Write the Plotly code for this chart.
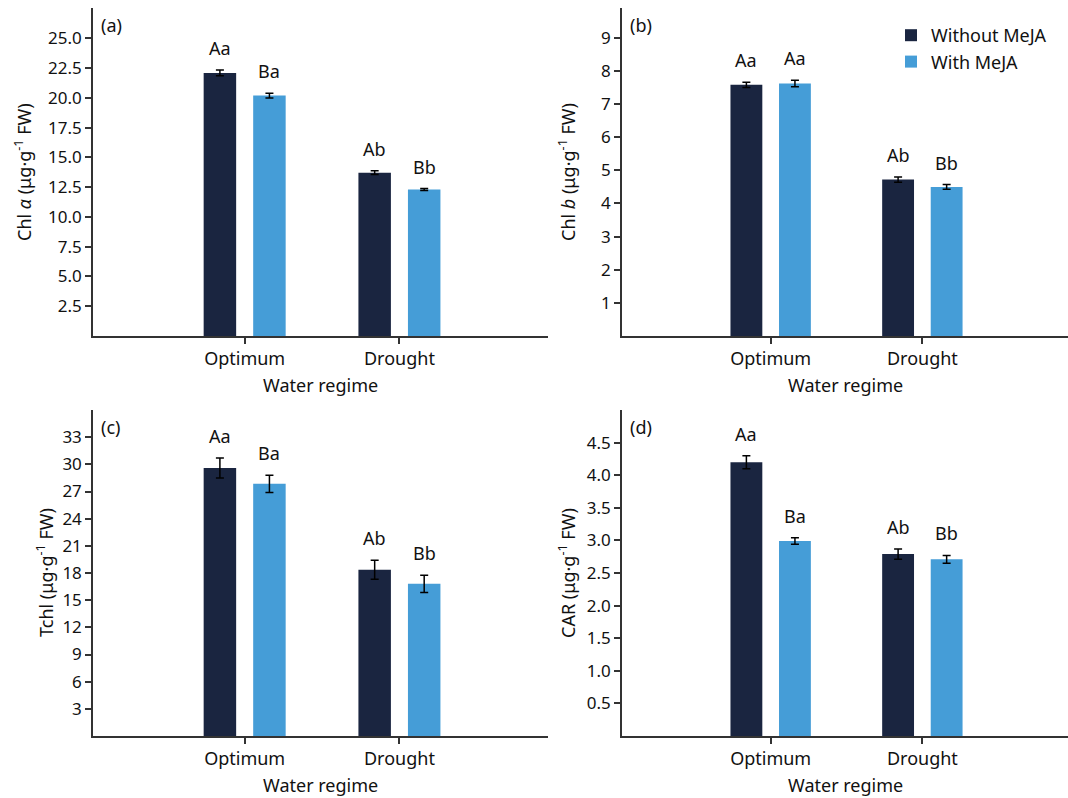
import plotly.graph_objects as go

W, H = 1068, 798

regimes = ["Optimum", "Drought"]
series_names = ["Without MeJA", "With MeJA"]
colors = ["#1a2540", "#459dd7"]

# Panel (a) Chl a
chla_without = [22.1, 13.72]
chla_with = [20.2, 12.3]
chla_without_err = [0.25, 0.15]
chla_with_err = [0.2, 0.08]
chla_letters_without = ["Aa", "Ab"]
chla_letters_with = ["Ba", "Bb"]

# Panel (b) Chl b
chlb_without = [7.58, 4.72]
chlb_with = [7.62, 4.50]
chlb_without_err = [0.08, 0.08]
chlb_with_err = [0.1, 0.07]
chlb_letters_without = ["Aa", "Ab"]
chlb_letters_with = ["Aa", "Bb"]

# Panel (c) Tchl
tchl_without = [29.6, 18.35]
tchl_with = [27.85, 16.8]
tchl_without_err = [1.1, 1.05]
tchl_with_err = [0.95, 0.95]
tchl_letters_without = ["Aa", "Ab"]
tchl_letters_with = ["Ba", "Bb"]

# Panel (d) CAR
car_without = [4.20, 2.79]
car_with = [2.99, 2.71]
car_without_err = [0.1, 0.08]
car_with_err = [0.05, 0.06]
car_letters_without = ["Aa", "Ab"]
car_letters_with = ["Ba", "Bb"]

ytick_a = [2.5, 5.0, 7.5, 10.0, 12.5, 15.0, 17.5, 20.0, 22.5, 25.0]
ytick_b = [1, 2, 3, 4, 5, 6, 7, 8, 9]
ytick_c = [3, 6, 9, 12, 15, 18, 21, 24, 27, 30, 33]
ytick_d = [0.5, 1.0, 1.5, 2.0, 2.5, 3.0, 3.5, 4.0, 4.5]

ytitle_a = "Chl <i>α</i> (μg·g<sup>-1</sup> FW)"
ytitle_b = "Chl <i>b</i> (μg·g<sup>-1</sup> FW)"
ytitle_c = "Tchl (μg·g<sup>-1</sup> FW)"
ytitle_d = "CAR (μg·g<sup>-1</sup> FW)"
xtitle = "Water regime"

FONT = "Noto Sans"
AXC = "#333333"
TXT = "#111111"
BARGAP = 0.36
BARGROUPGAP = 0.344
OFF = (1 - BARGAP) / 4  # centre offset of each bar within its group

panels = [
    dict(name="(a)", ax="", vals=(chla_without, chla_with), errs=(chla_without_err, chla_with_err),
         letters=(chla_letters_without, chla_letters_with), ticks=ytick_a, fmt=".1f", yr=[0, 27.55],
         xd=(93, 548), yd=(8, 336), title=ytitle_a, tx=23, legend=True),
    dict(name="(b)", ax="2", vals=(chlb_without, chlb_with), errs=(chlb_without_err, chlb_with_err),
         letters=(chlb_letters_without, chlb_letters_with), ticks=ytick_b, fmt="d", yr=[0, 9.9],
         xd=(622, 1068), yd=(8, 336), title=ytitle_b, tx=567, legend=False),
    dict(name="(c)", ax="3", vals=(tchl_without, tchl_with), errs=(tchl_without_err, tchl_with_err),
         letters=(tchl_letters_without, tchl_letters_with), ticks=ytick_c, fmt="d", yr=[0, 36],
         xd=(93, 548), yd=(410, 736), title=ytitle_c, tx=45, legend=False),
    dict(name="(d)", ax="4", vals=(car_without, car_with), errs=(car_without_err, car_with_err),
         letters=(car_letters_without, car_letters_with), ticks=ytick_d, fmt=".1f", yr=[0, 5.0],
         xd=(622, 1068), yd=(410, 736), title=ytitle_d, tx=567, legend=False),
]

fig = go.Figure()
annotations = []
layout = {}

for p in panels:
    xa = "x" + p["ax"]
    ya = "y" + p["ax"]
    for i in range(2):
        fig.add_trace(go.Bar(
            x=regimes, y=p["vals"][i], name=series_names[i],
            marker=dict(color=colors[i], line=dict(width=0)),
            error_y=dict(type="data", array=p["errs"][i], color="black", thickness=1.5, width=4),
            xaxis=xa, yaxis=ya, legendgroup=series_names[i], showlegend=p["legend"],
        ))
        sign = -1 if i == 0 else 1
        for j, reg in enumerate(regimes):
            annotations.append(dict(
                x=j + sign * OFF, y=p["vals"][i][j] + p["errs"][i][j], xref=xa, yref=ya,
                text=p["letters"][i][j], showarrow=False, yanchor="bottom", xanchor="center",
                yshift=8, font=dict(family=FONT, size=18, color=TXT),
            ))
    x0, x1 = p["xd"]
    y0, y1 = p["yd"]
    layout["xaxis" + p["ax"]] = dict(
        domain=[x0 / W, min(x1 / W, 1.0)], anchor=ya, range=[-0.98, 1.96],
        showline=True, linecolor=AXC, linewidth=1.5, ticks="outside", ticklen=6, tickwidth=1.5,
        tickcolor=AXC, showgrid=False, zeroline=False,
        tickfont=dict(family=FONT, size=18, color=TXT),
    )
    layout["yaxis" + p["ax"]] = dict(
        domain=[1 - y1 / H, 1 - y0 / H], anchor=xa, range=p["yr"],
        showline=True, linecolor=AXC, linewidth=1.5, ticks="outside", ticklen=6, tickwidth=1.5,
        tickcolor=AXC, showgrid=False, zeroline=False, tickvals=p["ticks"], tickformat=p["fmt"],
        tickfont=dict(family=FONT, size=17, color=TXT),
    )
    # panel tag
    annotations.append(dict(x=(x0 + 6) / W, y=1 - (y0 + 17) / H, xref="paper", yref="paper",
                            text=p["name"], showarrow=False, xanchor="left", yanchor="middle",
                            font=dict(family=FONT, size=18, color=TXT)))
    # y title
    annotations.append(dict(x=p["tx"] / W, y=1 - (y0 + y1) / 2 / H, xref="paper", yref="paper",
                            text=p["title"], showarrow=False, textangle=-90, xanchor="center",
                            yanchor="middle", font=dict(family=FONT, size=18, color=TXT)))
    # x title
    annotations.append(dict(x=(x0 + min(x1, W)) / 2 / W, y=1 - (y1 + 49) / H, xref="paper", yref="paper",
                            text=xtitle, showarrow=False, xanchor="center", yanchor="middle",
                            font=dict(family=FONT, size=18, color=TXT)))

fig.update_layout(
    width=W, height=H, margin=dict(l=0, r=0, t=0, b=0),
    paper_bgcolor="white", plot_bgcolor="white",
    barmode="group", bargap=BARGAP, bargroupgap=BARGROUPGAP,
    showlegend=True,
    legend=dict(x=891 / W, y=1 - 17 / H, xanchor="left", yanchor="top",
                font=dict(family=FONT, size=18, color=TXT), bgcolor="rgba(0,0,0,0)",
                tracegroupgap=0),
    annotations=annotations,
    **layout,
)

fig.write_html("out.html", config={"displayModeBar": False},
               post_script="document.body.style.margin='0';document.body.style.padding='0';")
